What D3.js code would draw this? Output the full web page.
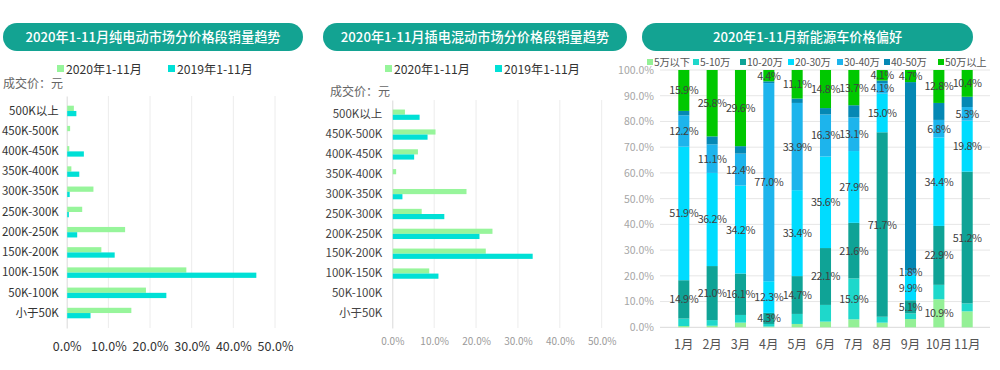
<!DOCTYPE html>
<html>
<head>
<meta charset="utf-8">
<script src="https://cdn.jsdelivr.net/npm/d3@7"></script>
<style>
  body { margin: 0; background: #fff; }
  svg { display: block; font-family: "Noto Sans CJK SC", "Noto Sans", sans-serif; }
</style>
</head>
<body>
<svg width="1000" height="370"></svg>
<script>
  // ---- data ----
  var priceBands = ["500K以上", "450K-500K", "400K-450K", "350K-400K", "300K-350K", "250K-300K",
    "200K-250K", "150K-200K", "100K-150K", "50K-100K", "小于50K"];
  var barSeries = ["2020年1-11月", "2019年1-11月"];

  var bev2020 = [1.6, 0.7, 0.5, 1.0, 6.3, 3.6, 13.9, 8.2, 28.6, 18.9, 15.4];
  var bev2019 = [2.2, 0, 4.0, 2.9, 0.6, 0.4, 2.4, 11.4, 45.4, 23.8, 5.6];
  var phev2020 = [2.9, 10.2, 6.0, 0.8, 17.6, 6.9, 23.8, 22.2, 8.7, 0, 0];
  var phev2019 = [6.4, 8.3, 5.1, 0, 2.3, 12.3, 20.7, 33.4, 10.9, 0, 0];
  var pctTicks = [0, 10, 20, 30, 40, 50];

  var months = ["1月", "2月", "3月", "4月", "5月", "6月", "7月", "8月", "9月", "10月", "11月"];
  var priceLevels = ["5万以下", "5-10万", "10-20万", "20-30万", "30-40万", "40-50万", "50万以上"];
  var under5 = [0.5, 0.6, 1.8, 0.3, 1.3, 2.2, 3.1, 1.8, 3.2, 10.9, 6.2];
  var w5to10 = [2.9, 2.2, 3.0, 1.0, 3.9, 6.5, 15.9, 2.3, 2.2, 5.6, 3.1];
  var w10to20 = [14.9, 21.0, 16.1, 4.3, 14.7, 22.1, 21.6, 71.7, 5.1, 22.9, 51.2];
  var w20to30 = [51.9, 36.2, 34.2, 12.3, 33.4, 35.6, 27.9, 15.0, 9.9, 34.4, 19.8];
  var w30to40 = [12.2, 11.1, 12.4, 77.0, 33.9, 16.3, 13.1, 4.1, 1.8, 6.8, 5.3];
  var w40to50 = [1.7, 3.1, 2.9, 0.7, 1.7, 2.5, 4.7, 1.0, 73.1, 6.6, 4.0];
  var over50 = [15.9, 25.8, 29.6, 4.4, 11.1, 14.8, 13.7, 4.1, 4.7, 12.8, 10.4];
  // which months carry a data label, per price level
  var labelledMonths = [
    ["10月"],
    ["7月"],
    ["1月", "2月", "3月", "4月", "5月", "6月", "7月", "8月", "9月", "10月", "11月"],
    ["1月", "2月", "3月", "4月", "5月", "6月", "7月", "8月", "9月", "10月", "11月"],
    ["1月", "2月", "3月", "4月", "5月", "6月", "7月", "8月", "9月", "10月", "11月"],
    [],
    ["1月", "2月", "3月", "4月", "5月", "6月", "7月", "8月", "9月", "10月", "11月"]
  ];
  var shareTicks = [0, 10, 20, 30, 40, 50, 60, 70, 80, 90, 100];

  var titles = ["2020年1-11月纯电动市场分价格段销量趋势", "2020年1-11月插电混动市场分价格段销量趋势",
    "2020年1-11月新能源车价格偏好"];

  var svg = d3.select("svg");
  var teal = "#13a392";
  var barColors = ["#97f59b", "#00e0d6"];
  var levelColors = ["#94f096", "#1ed8cb", "#0fa396", "#00dcff", "#1db4ec", "#0588b4", "#00c800"];

  // ---- title pills ----
  var pills = [[3, 300], [323, 304], [642, 331]];
  pills.forEach(function (p, i) {
    svg.append("rect")
      .attr("x", p[0]).attr("y", 23)
      .attr("width", p[1]).attr("height", 28)
      .attr("rx", 14)
      .attr("fill", teal);
    svg.append("text")
      .attr("x", p[0] + p[1] / 2).attr("y", 41.5)
      .attr("text-anchor", "middle")
      .attr("fill", "#fff")
      .attr("font-size", 13.2)
      .attr("font-weight", 500)
      .text(titles[i]);
  });

  // ---- horizontal grouped bar panels ----
  function barPanel(opt) {
    var x = d3.scaleLinear().domain([0, 50]).range([opt.x0, opt.x1]);
    var y = d3.scaleBand().domain(priceBands).range([opt.top, opt.bottom]).padding(0.48);
    var y1 = d3.scaleBand().domain(barSeries).range([0, y.bandwidth()]);

    var g = svg.append("g");

    g.selectAll("line.grid")
      .data(pctTicks.slice(1))
      .enter().append("line")
      .attr("x1", function (d) { return x(d); })
      .attr("x2", function (d) { return x(d); })
      .attr("y1", opt.top).attr("y2", opt.bottom)
      .attr("stroke", "#ececec");

    var xAxis = g.append("g")
      .attr("transform", "translate(0," + (opt.bottom + 4) + ")")
      .call(d3.axisBottom(x).tickValues(pctTicks).tickSize(0).tickPadding(opt.tickPad)
        .tickFormat(function (d) { return d.toFixed(1) + "%"; }));
    xAxis.select(".domain").remove();
    xAxis.selectAll("text")
      .attr("fill", opt.tickColor)
      .attr("font-size", opt.tickSize)
      .attr("font-family", "\"Noto Sans CJK SC\", sans-serif");

    var yAxis = g.append("g")
      .attr("transform", "translate(" + opt.x0 + ",0)")
      .call(d3.axisLeft(y).tickSize(0).tickPadding(opt.catPad));
    yAxis.select(".domain").attr("stroke", "#d9d9d9");
    yAxis.selectAll("text")
      .attr("fill", opt.catColor)
      .attr("font-size", opt.catSize)
      .attr("font-family", "\"Noto Sans CJK SC\", sans-serif");

    var series = [opt.a, opt.b];
    series.forEach(function (vals, si) {
      g.selectAll("rect.s" + si)
        .data(vals)
        .enter().append("rect")
        .attr("x", x(0) + 0.5)
        .attr("y", function (d, i) { return y(priceBands[i]) + y1(barSeries[si]); })
        .attr("width", function (d) { return Math.max(0, x(d) - x(0)); })
        .attr("height", y1.bandwidth())
        .attr("fill", barColors[si]);
    });

    // legend
    barSeries.forEach(function (s, i) {
      var lx = opt.legendX[i];
      svg.append("rect").attr("x", lx).attr("y", 65).attr("width", 7).attr("height", 7)
        .attr("fill", barColors[i]);
      svg.append("text").attr("x", lx + 9).attr("y", 73.5)
        .attr("font-size", 12.2).attr("fill", "#333").text(s);
    });

    svg.append("text").attr("x", opt.unitX).attr("y", opt.unitY)
      .attr("font-size", 12).attr("fill", "#666").text("成交价：元");
  }

  barPanel({
    a: bev2020, b: bev2019, x0: 66.7, x1: 275, top: 96, bottom: 328,
    tickPad: 10, tickColor: "#333", tickSize: 12.5,
    catPad: 8, catColor: "#333", catSize: 11.5,
    legendX: [57, 168], unitX: 3, unitY: 88
  });
  barPanel({
    a: phev2020, b: phev2019, x0: 392.3, x1: 601.7, top: 100, bottom: 328,
    tickPad: 6, tickColor: "#9a9a9a", tickSize: 10,
    catPad: 10, catColor: "#444", catSize: 11.5,
    legendX: [385, 495], unitX: 330, unitY: 96
  });

  // ---- 100% stacked columns ----
  var rows = months.map(function (m, i) {
    return {
      month: m, "5万以下": under5[i], "5-10万": w5to10[i], "10-20万": w10to20[i],
      "20-30万": w20to30[i], "30-40万": w30to40[i], "40-50万": w40to50[i], "50万以上": over50[i]
    };
  });
  var stacked = d3.stack().keys(priceLevels).offset(d3.stackOffsetExpand)(rows);

  var sx = d3.scaleBand().domain(months).range([661, 990]).padding(0.61);
  var sy = d3.scaleLinear().domain([0, 100]).range([327.3, 70]);
  var g3 = svg.append("g");

  g3.selectAll("line.grid")
    .data(shareTicks)
    .enter().append("line")
    .attr("x1", 660).attr("x2", 990)
    .attr("y1", function (d) { return sy(d); })
    .attr("y2", function (d) { return sy(d); })
    .attr("stroke", function (d) { return d === 0 ? "#d9d9d9" : "#e6e6e6"; });

  var yAx3 = g3.append("g")
    .attr("transform", "translate(656,0)")
    .call(d3.axisLeft(sy).tickValues(shareTicks).tickSize(0).tickPadding(2)
      .tickFormat(function (d) { return d.toFixed(1) + "%"; }));
  yAx3.select(".domain").remove();
  yAx3.selectAll("text").attr("fill", "#a6a6a6").attr("font-size", 10.5)
    .attr("font-family", "\"Noto Sans CJK SC\", sans-serif");

  var xAx3 = g3.append("g")
    .attr("transform", "translate(0,334)")
    .call(d3.axisBottom(sx).tickSize(0).tickPadding(6));
  xAx3.select(".domain").remove();
  xAx3.selectAll("text").attr("fill", "#555").attr("font-size", 12.5)
    .attr("font-family", "\"Noto Sans CJK SC\", sans-serif");

  var layers = g3.selectAll("g.layer")
    .data(stacked)
    .enter().append("g")
    .attr("fill", function (d, i) { return levelColors[i]; });

  layers.selectAll("rect")
    .data(function (d) { return d; })
    .enter().append("rect")
    .attr("x", function (d) { return sx(d.data.month); })
    .attr("width", sx.bandwidth())
    .attr("y", function (d) { return sy(d[1] * 100); })
    .attr("height", function (d) { return sy(d[0] * 100) - sy(d[1] * 100); });

  stacked.forEach(function (layer, li) {
    g3.selectAll("text.lab" + li)
      .data(layer.filter(function (d) { return labelledMonths[li].indexOf(d.data.month) >= 0; }))
      .enter().append("text")
      .attr("x", function (d) { return sx(d.data.month) + sx.bandwidth() / 2; })
      .attr("y", function (d) { return sy((d[0] + d[1]) / 2 * 100) + 4; })
      .attr("text-anchor", "middle")
      .attr("font-size", 10.8)
      .attr("letter-spacing", -0.4)
      .attr("fill", "#404040")
      .text(function (d) { return d.data[layer.key].toFixed(1) + "%"; });
  });

  // legend
  var legX = [647, 693, 740, 788, 837, 884, 938];
  priceLevels.forEach(function (k, i) {
    svg.append("rect").attr("x", legX[i]).attr("y", 59).attr("width", 6).attr("height", 6)
      .attr("fill", levelColors[i]);
    svg.append("text").attr("x", legX[i] + 7).attr("y", 66)
      .attr("font-size", 10.3).attr("letter-spacing", -0.2)
      .attr("fill", "#555").text(k);
  });
</script>
</body>
</html>
